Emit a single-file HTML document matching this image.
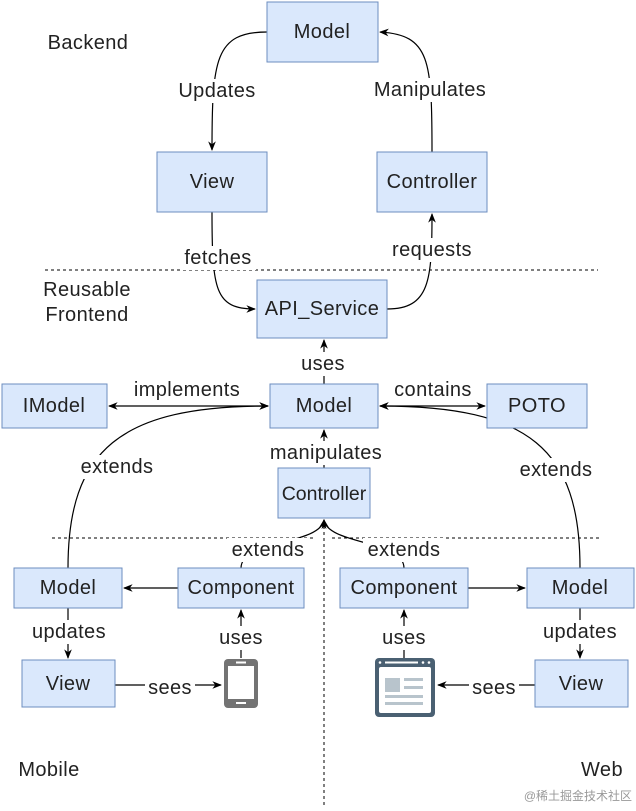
<!DOCTYPE html>
<html><head><meta charset="utf-8"><style>
html,body{margin:0;padding:0;background:#fff;}
svg{display:block;font-family:"Liberation Sans","Noto Sans CJK SC",sans-serif;}
.b{fill:#dae8fc;stroke:#6c8ebf;stroke-width:1;}
.t{font-size:20px;letter-spacing:0.4px;fill:#222;text-anchor:middle;dominant-baseline:central;}
.e{fill:none;stroke:#000;stroke-width:1.2;}
.d{fill:none;stroke:#000;stroke-width:1;stroke-dasharray:3,3;}
.l{font-size:20px;letter-spacing:0.4px;fill:#222;text-anchor:middle;dominant-baseline:central;}
.lb{fill:#fff;}
</style></head><body>
<svg width="636" height="811" viewBox="0 0 636 811">
<defs><marker id="a" viewBox="0 0 10 10" refX="9" refY="5" markerWidth="8" markerHeight="8" orient="auto-start-reverse"><path d="M0,1 L10,5 L0,9 L3,5 z" fill="#000"/></marker></defs>
<line class="d" x1="45" y1="270" x2="598" y2="270"/>
<line class="d" x1="52" y1="538" x2="316" y2="538"/>
<line class="d" x1="332" y1="538" x2="600" y2="538"/>
<line class="d" x1="324" y1="520" x2="324" y2="805"/>
<path class="e" d="M267,32 C215,32 212,60 212,150" marker-end="url(#a)"/>
<path class="e" d="M432,152 C432,60 430,35 380,32" marker-end="url(#a)"/>
<path class="e" d="M212,212 C212,290 215,309 255,309" marker-end="url(#a)"/>
<path class="e" d="M387,309 C430,309 432,280 432,214" marker-end="url(#a)"/>
<path class="e" d="M324,384 L324,340" marker-end="url(#a)"/>
<path class="e" d="M109,406 L268,406" marker-start="url(#a)" marker-end="url(#a)"/>
<path class="e" d="M380,406 L485,406" marker-start="url(#a)" marker-end="url(#a)"/>
<path class="e" d="M324,468 L324,430" marker-end="url(#a)"/>
<path class="e" d="M68,568 C68,450 120,406 268,406" marker-end="url(#a)"/>
<path class="e" d="M580,568 C580,450 530,406 380,406" marker-end="url(#a)"/>
<path class="e" d="M241,568 C241,540 320,545 324,520" marker-end="url(#a)"/>
<path class="e" d="M404,568 C404,540 328,545 324,520" marker-end="url(#a)"/>
<path class="e" d="M178,588 L124,588" marker-end="url(#a)"/>
<path class="e" d="M468,588 L525,588" marker-end="url(#a)"/>
<path class="e" d="M68,608 L68,658" marker-end="url(#a)"/>
<path class="e" d="M580,608 L580,658" marker-end="url(#a)"/>
<path class="e" d="M241,658 L241,610" marker-end="url(#a)"/>
<path class="e" d="M404,658 L404,610" marker-end="url(#a)"/>
<path class="e" d="M115,685 L221,685" marker-end="url(#a)"/>
<path class="e" d="M535,685 L438,685" marker-end="url(#a)"/>
<rect class="b" x="267" y="2" width="111" height="60"/><text class="t" x="322" y="32">Model</text>
<rect class="b" x="157" y="152" width="110" height="60"/><text class="t" x="212" y="182">View</text>
<rect class="b" x="377" y="152" width="110" height="60"/><text class="t" x="432" y="182">Controller</text>
<rect class="b" x="257" y="280" width="130" height="58"/><text class="t" x="322" y="309">API_Service</text>
<rect class="b" x="2" y="384" width="105" height="44"/><text class="t" x="54" y="406">IModel</text>
<rect class="b" x="270" y="384" width="108" height="44"/><text class="t" x="324" y="406">Model</text>
<rect class="b" x="487" y="384" width="100" height="44"/><text class="t" x="537" y="406">POTO</text>
<rect class="b" x="278" y="468" width="92" height="50"/><text class="t" x="324" y="494" style="font-size:19.5px;letter-spacing:0">Controller</text>
<rect class="b" x="14" y="568" width="108" height="40"/><text class="t" x="68" y="588">Model</text>
<rect class="b" x="178" y="568" width="126" height="40"/><text class="t" x="241" y="588">Component</text>
<rect class="b" x="340" y="568" width="128" height="40"/><text class="t" x="404" y="588">Component</text>
<rect class="b" x="527" y="568" width="107" height="40"/><text class="t" x="580" y="588">Model</text>
<rect class="b" x="22" y="660" width="93" height="47"/><text class="t" x="68" y="684">View</text>
<rect class="b" x="535" y="660" width="93" height="47"/><text class="t" x="581" y="684">View</text>
<rect x="224" y="659" width="34" height="49" rx="4" fill="#737373"/>
<rect x="228" y="666" width="26" height="33" fill="#fff"/>
<rect x="236" y="661.5" width="10" height="2" fill="#fff"/>
<rect x="236" y="702" width="10" height="2" fill="#fff"/>
<rect x="375" y="658" width="60" height="59" rx="4" fill="#4a6072"/>
<rect x="379" y="667" width="52" height="46" rx="2" fill="#fff"/>
<circle cx="380" cy="662.5" r="1.3" fill="#fff"/><rect x="385" y="661.5" width="33" height="2" fill="#fff"/><circle cx="423" cy="662.5" r="1.3" fill="#fff"/><circle cx="429" cy="662.5" r="1.3" fill="#fff"/>
<rect x="385" y="678" width="15" height="14" fill="#b8c4cc"/>
<rect x="404" y="678" width="19" height="3" fill="#b8c4cc"/><rect x="404" y="686" width="19" height="3" fill="#b8c4cc"/>
<rect x="385" y="695" width="38" height="3" fill="#b8c4cc"/><rect x="385" y="702" width="38" height="3" fill="#b8c4cc"/>
<rect class="lb" x="172" y="79" width="90" height="24"/><text class="l" x="217" y="91">Updates</text>
<rect class="lb" x="370" y="78" width="120" height="24"/><text class="l" x="430" y="90">Manipulates</text>
<rect class="lb" x="180" y="246" width="76" height="24"/><text class="l" x="218" y="258">fetches</text>
<rect class="lb" x="386" y="238" width="92" height="24"/><text class="l" x="432" y="250">requests</text>
<rect class="lb" x="298" y="352" width="50" height="24"/><text class="l" x="323" y="364">uses</text>
<rect class="lb" x="129" y="378" width="118" height="24"/><text class="l" x="187" y="390">implements</text>
<rect class="lb" x="388" y="378" width="92" height="24"/><text class="l" x="433" y="390">contains</text>
<rect class="lb" x="266" y="441" width="120" height="24"/><text class="l" x="326" y="453">manipulates</text>
<rect class="lb" x="76" y="455" width="82" height="24"/><text class="l" x="117" y="467">extends</text>
<rect class="lb" x="515" y="458" width="82" height="24"/><text class="l" x="556" y="470">extends</text>
<rect class="lb" x="227" y="538" width="82" height="24"/><text class="l" x="268" y="550">extends</text>
<rect class="lb" x="363" y="538" width="82" height="24"/><text class="l" x="404" y="550">extends</text>
<rect class="lb" x="28" y="620" width="82" height="24"/><text class="l" x="69" y="632">updates</text>
<rect class="lb" x="539" y="620" width="82" height="24"/><text class="l" x="580" y="632">updates</text>
<rect class="lb" x="216" y="626" width="50" height="24"/><text class="l" x="241" y="638">uses</text>
<rect class="lb" x="379" y="626" width="50" height="24"/><text class="l" x="404" y="638">uses</text>
<rect class="lb" x="145" y="676" width="50" height="24"/><text class="l" x="170" y="688">sees</text>
<rect class="lb" x="469" y="676" width="50" height="24"/><text class="l" x="494" y="688">sees</text>
<text class="l" x="88" y="43">Backend</text>
<text class="l" x="87" y="290">Reusable</text>
<text class="l" x="87" y="315">Frontend</text>
<text class="l" x="49" y="770">Mobile</text>
<text class="l" x="602" y="770">Web</text>
<text x="632" y="800" font-size="12" fill="#999" text-anchor="end">@稀土掘金技术社区</text>
</svg>
</body></html>
